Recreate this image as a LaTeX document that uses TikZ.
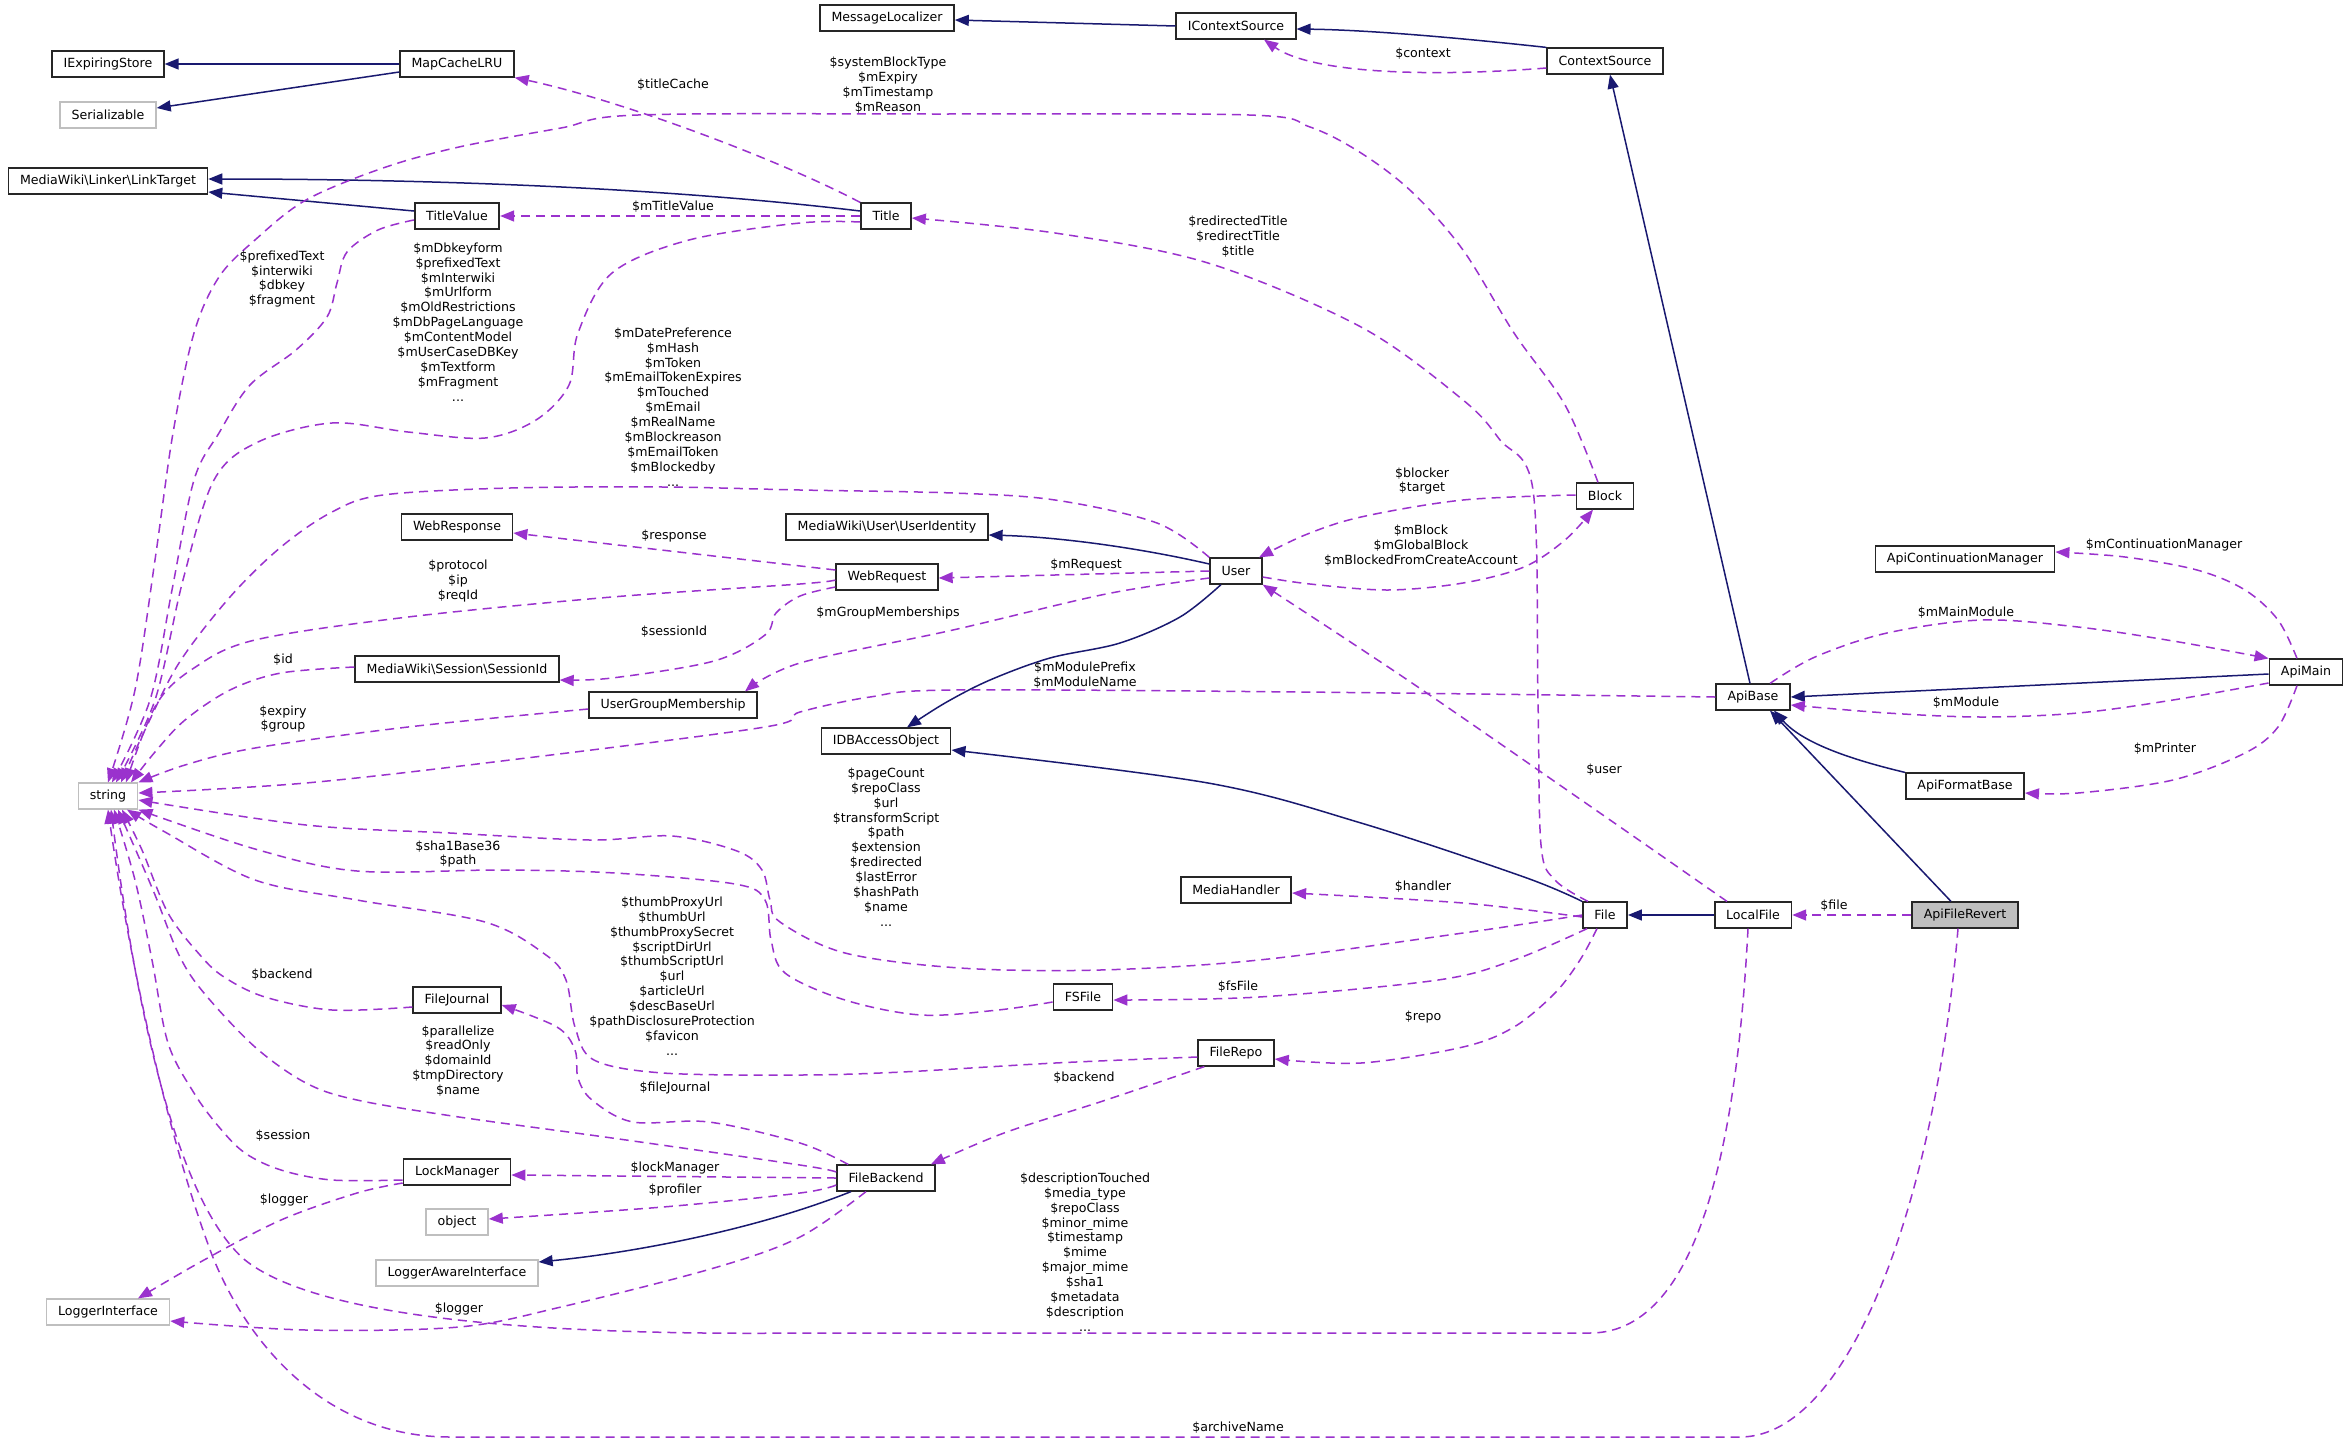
\documentclass[tikz,border=0pt]{standalone}
\usepackage{fontspec}
\setmainfont{DejaVu Sans}
\usetikzlibrary{arrows.meta}
\definecolor{navyc}{HTML}{191970}
\definecolor{orch}{HTML}{9A32CD}
\definecolor{greyb}{HTML}{BFBFBF}
\newcommand{\bsl}{\textbackslash}
\begin{document}
\begin{tikzpicture}[x=1pt,y=-1pt,
 cls/.style={draw=black!85, line width=1.7pt, fill=white, inner xsep=11.5pt, inner ysep=0pt, minimum height=25.5pt, font=\fontsize{12.6}{14.9}\selectfont},
 ext/.style={cls, draw=greyb},
 inh/.style={draw=navyc, line width=1.5pt, -{Triangle[length=14pt,width=11pt]}},
 usg/.style={draw=orch, line width=1.5pt, dash pattern=on 9pt off 6pt, -{Triangle[length=14pt,width=11pt]}},
 lbl/.style={align=center, inner sep=0pt, font=\fontsize{12.6}{14.9}\selectfont},
 sm/.style={smooth, tension=0.55}]
\fill[white] (0,0) rectangle (2349,1443);
\useasboundingbox (0,0) rectangle (2349,1443);
% nodes
\node[cls] (iexp) at (108,64) {IExpiringStore};
\node[ext] (ser) at (108,115) {Serializable};
\node[cls] (mapc) at (457,64) {MapCacheLRU};
\node[cls] (msgl) at (887,18) {MessageLocalizer};
\node[cls] (ictx) at (1236,26) {IContextSource};
\node[cls] (ctx) at (1605,61) {ContextSource};
\node[cls] (lt) at (108,181) {MediaWiki\bsl Linker\bsl LinkTarget};
\node[cls] (tv) at (457,216) {TitleValue};
\node[cls] (title) at (886,216) {Title};
\node[cls] (block) at (1605,496) {Block};
\node[cls] (wresp) at (457,527) {WebResponse};
\node[cls] (uid) at (887,527) {MediaWiki\bsl User\bsl UserIdentity};
\node[cls] (wreq) at (887,577) {WebRequest};
\node[cls] (user) at (1236,571) {User};
\node[cls] (acm) at (1965,559) {ApiContinuationManager};
\node[cls] (sid) at (457,669) {MediaWiki\bsl Session\bsl SessionId};
\node[cls] (ugm) at (673,705) {UserGroupMembership};
\node[cls] (apibase) at (1753,697) {ApiBase};
\node[cls] (apimain) at (2306,672) {ApiMain};
\node[ext] (str) at (108,796) {string};
\node[cls] (idb) at (886,741) {IDBAccessObject};
\node[cls] (afb) at (1965,786) {ApiFormatBase};
\node[cls] (mh) at (1236,890) {MediaHandler};
\node[cls] (file) at (1605,915) {File};
\node[cls] (lfile) at (1753,915) {LocalFile};
\node[cls, fill=greyb] (afr) at (1965,915) {ApiFileRevert};
\node[cls] (fj) at (457,1000) {FileJournal};
\node[cls] (fsfile) at (1083,997) {FSFile};
\node[cls] (frepo) at (1236,1053) {FileRepo};
\node[cls] (lockm) at (457,1172) {LockManager};
\node[cls] (fbe) at (886,1178) {FileBackend};
\node[ext] (obj) at (457,1222) {object};
\node[ext] (lai) at (457,1273) {LoggerAwareInterface};
\node[ext] (li) at (108,1312) {LoggerInterface};
% inheritance
\draw[inh] (mapc.west) -- (iexp.east);
\draw[inh] ([yshift=-8pt]mapc.west) -- ([yshift=7pt]ser.east);
\draw[inh] (ictx.west) -- ([yshift=-2pt]msgl.east);
\draw[inh] (ctx.north west) .. controls (1460,38) and (1370,30) .. ([yshift=-3pt]ictx.east);
\draw[inh] ([yshift=5pt]tv.west) -- ([yshift=-11pt]lt.east);
\draw[inh] ([yshift=5pt]title.west) .. controls (660,187) and (420,179) .. ([yshift=2pt]lt.east);
\draw[inh] ([yshift=7pt]user.west) .. controls (1140,548) and (1060,537) .. ([yshift=-8pt]uid.east);
\draw[inh] plot[sm] coordinates {([xshift=-15pt]user.south) (1180,617) (1120,643) (1050,658) (990,680) (945,703) ([xshift=21pt]idb.north)};
\draw[inh] plot[sm] coordinates {(file.north west) (1524,877) (1361,823) (1208,783) ([yshift=-9pt]idb.east)};
\draw[inh] (lfile.west) -- (file.east);
\draw[inh] ([xshift=-3pt]apibase.north) -- ([xshift=5pt]ctx.south);
\draw[inh] ([yshift=-2pt]apimain.west) -- (apibase.east);
\draw[inh] (afb.north west) .. controls (1840,757) and (1800,740) .. ([xshift=21pt]apibase.south);
\draw[inh] ([xshift=-14pt]afr.north) -- ([xshift=17pt]apibase.south);
\draw[inh] ([xshift=-35pt]fbe.south) .. controls (760,1228) and (640,1252) .. ([yshift=11pt]lai.east);
% usage
\draw[usg] (title.north west) .. controls (780,160) and (620,100) .. (mapc.south east);
\draw[usg] (title.west) -- (tv.east);
\draw[usg] ([yshift=-7pt]ctx.west) .. controls (1420,78) and (1310,72) .. ([xshift=28pt]ictx.south);
\draw[usg] plot[sm] coordinates {([xshift=-7pt]block.north) (1565,405) (1514,333) (1463,250) (1412,192) (1361,153) (1310,127) (1249,115) (940,114) (638,115) (561,128) (459,147) (383,168) (306,200) (255,240) (219,277) (194,333) (173,433) (155,560) (135,690) (str.north)};
\draw[usg] plot[sm] coordinates {([yshift=-4pt]tv.west) (378,230) (347,252) (337,283) (327,317) (296,350) (250,385) (219,433) (194,480) (172,590) (150,700) ([xshift=4pt]str.north)};
\draw[usg] plot[sm] coordinates {([yshift=-6pt]title.west) (800,223) (689,240) (612,273) (578,333) (569,385) (536,420) (485,438) (408,432) (332,423) (258,442) (214,480) (183,580) (155,700) ([xshift=8pt]str.north)};
\draw[usg] plot[sm] coordinates {(user.north west) (1157,523) (1055,500) (953,493) (800,490) (663,487) (510,488) (383,495) (332,512) (281,547) (230,597) (179,663) (145,730) ([xshift=13pt]str.north)};
\draw[usg] plot[sm] coordinates {([yshift=-3pt]wreq.west) (800,584) (612,597) (408,617) (255,640) (194,668) (156,705) ([xshift=18pt]str.north)};
\draw[usg] plot[sm] coordinates {([yshift=2pt]sid.west) (281,673) (230,690) (185,720) (155,752) ([xshift=23pt]str.north)};
\draw[usg] plot[sm] coordinates {([yshift=-4pt]ugm.west) (408,727) (255,748) (185,765) (str.north east)};
\draw[usg] plot[sm] coordinates {(apibase.west) (1300,692) (953,690) (870,697) (800,712) (765,727) (510,760) (306,783) ([yshift=3pt]str.east)};
\draw[usg] plot[sm] coordinates {(file.west) (1463,933) (1259,960) (1100,970) (960,968) (845,953) (780,922) (770,900) (762,870) (737,851) (672,836) (590,840) (450,833) (306,825) ([yshift=-4pt]str.east)};
\draw[usg] plot[sm] coordinates {([yshift=-5pt]fsfile.west) (998,1010) (921,1015) (845,1000) (785,973) (771,940) (765,900) (735,884) (615,873) (500,870) (357,871) (255,849) (str.south east)};
\draw[usg] plot[sm] coordinates {([yshift=-4pt]frepo.west) (1055,1063) (902,1072) (800,1075) (663,1073) (594,1060) (575,1027) (566,980) (546,955) (485,922) (357,900) (255,880) (165,832) ([xshift=19pt]str.south)};
\draw[usg] plot[sm] coordinates {([yshift=-7pt]fj.west) (332,1010) (265,997) (224,977) (200,955) (168,913) (142,850) ([xshift=14pt]str.south)};
\draw[usg] plot[sm] coordinates {([yshift=6pt]fbe.west) (800,1165) (612,1138) (459,1117) (357,1100) (306,1083) (255,1047) (204,993) (179,955) (153,890) ([xshift=10pt]str.south)};
\draw[usg] plot[sm] coordinates {([yshift=-8pt]lockm.west) (332,1180) (281,1170) (245,1153) (219,1127) (194,1093) (168,1043) (152,960) (135,880) ([xshift=6pt]str.south)};
\draw[usg] ([xshift=-5pt]lfile.south) .. controls (1738,1120) and (1705,1333) .. (1590,1333) -- (800,1333) .. controls (500,1336) and (310,1312) .. (245,1260) .. controls (175,1200) and (135,1000) .. ([xshift=3pt]str.south);
\draw[usg] ([xshift=-7pt]afr.south) .. controls (1935,1200) and (1850,1437) .. (1740,1437) -- (450,1437) .. controls (330,1437) and (250,1350) .. (212,1255) .. controls (165,1130) and (128,950) .. (str.south);
\draw[usg] plot[sm] coordinates {([xshift=-17pt]file.north) (1555,880) (1541,845) (1538,700) (1533,490) (1500,440) (1463,400) (1361,327) (1208,263) (1055,233) ([yshift=-2pt]title.east)};
\draw[usg] plot[sm] coordinates {([yshift=1pt]block.west) (1463,500) (1361,517) (1305,535) ([xshift=23pt]user.north)};
\draw[usg] plot[sm] coordinates {([yshift=-6pt]user.east) (1310,584) (1388,590) (1463,583) (1524,567) (1565,540) ([xshift=-12pt]block.south)};
\draw[usg] ([yshift=7pt]wreq.west) -- ([yshift=-6pt]wresp.east);
\draw[usg] (user.west) -- ([yshift=-1pt]wreq.east);
\draw[usg] plot[sm] coordinates {([yshift=-10pt]wreq.west) (800,596) (776,613) (765,635) (714,661) (612,678) ([yshift=-11pt]sid.east)};
\draw[usg] plot[sm] coordinates {([yshift=-7pt]user.west) (1106,594) (953,630) (800,663) ([xshift=72pt]ugm.north)};
\draw[usg] plot[sm] coordinates {([xshift=17pt]apibase.north) (1815,657) (1887,633) (1982,620) (2078,627) (2173,641) (apimain.north west)};
\draw[usg] plot[sm] coordinates {([yshift=-11pt]apimain.west) (2173,700) (2078,713) (1982,717) (1887,713) ([yshift=-8pt]apibase.east)};
\draw[usg] plot[sm] coordinates {([xshift=-9pt]apimain.north) (2278,620) (2245,590) (2197,570) (2125,557) ([yshift=7pt]acm.east)};
\draw[usg] plot[sm] coordinates {([xshift=-9pt]apimain.south) (2278,727) (2245,753) (2173,780) (2078,793) ([yshift=-7pt]afb.east)};
\draw[usg] plot[sm] coordinates {([xshift=-26pt]lfile.north) (1600,813) (1412,683) (user.south east)};
\draw[usg] plot[sm] coordinates {([yshift=-2pt]file.west) (1463,903) ([yshift=-3pt]mh.east)};
\draw[usg] (afr.west) -- (lfile.east);
\draw[usg] plot[sm] coordinates {([xshift=5pt]file.south west) (1514,960) (1438,980) (1259,997) ([yshift=-3pt]fsfile.east)};
\draw[usg] plot[sm] coordinates {([xshift=-8pt]file.south) (1580,960) (1555,993) (1514,1027) (1463,1047) (1361,1063) ([yshift=-6pt]frepo.east)};
\draw[usg] plot[sm] coordinates {([xshift=12pt]fbe.north west) (800,1143) (709,1122) (633,1122) (592,1100) (578,1078) (575,1050) (557,1027) ([yshift=-5pt]fj.east)};
\draw[usg] (fbe.west) -- ([yshift=-3pt]lockm.east);
\draw[usg] plot[sm] coordinates {([yshift=-11pt]lockm.west) (357,1193) (281,1220) (204,1260) ([xshift=30pt]li.north)};
\draw[usg] plot[sm] coordinates {([yshift=-7pt]fbe.west) (800,1193) (663,1207) ([yshift=3pt]obj.east)};
\draw[usg] plot[sm] coordinates {([xshift=-20pt]fbe.south) (800,1237) (714,1268) (561,1307) (459,1327) (306,1330) ([yshift=-9pt]li.east)};
\draw[usg] plot[sm] coordinates {([xshift=7pt]frepo.south west) (1106,1100) (1004,1133) ([xshift=-5pt]fbe.north east)};
% labels
\node[lbl] (l1) at (673,85) {\$titleCache};
\node[lbl] (l2) at (673,207) {\$mTitleValue};
\node[lbl] (l3) at (1423,54) {\$context};
\node[lbl] (l4) at (888,85) {\$systemBlockType\\\$mExpiry\\\$mTimestamp\\\$mReason};
\node[lbl] (l5) at (282,279) {\$prefixedText\\\$interwiki\\\$dbkey\\\$fragment};
\node[lbl] (l6) at (458,322) {\$mDbkeyform\\\$prefixedText\\\$mInterwiki\\\$mUrlform\\\$mOldRestrictions\\\$mDbPageLanguage\\\$mContentModel\\\$mUserCaseDBKey\\\$mTextform\\\$mFragment\\...};
\node[lbl] (l7) at (1238,237) {\$redirectedTitle\\\$redirectTitle\\\$title};
\node[lbl] (l8) at (673,407) {\$mDatePreference\\\$mHash\\\$mToken\\\$mEmailTokenExpires\\\$mTouched\\\$mEmail\\\$mRealName\\\$mBlockreason\\\$mEmailToken\\\$mBlockedby\\...};
\node[lbl] (l9) at (1422,481) {\$blocker\\\$target};
\node[lbl] (l10) at (1421,546) {\$mBlock\\\$mGlobalBlock\\\$mBlockedFromCreateAccount};
\node[lbl] (l11) at (674,536) {\$response};
\node[lbl] (l12) at (1086,565) {\$mRequest};
\node[lbl] (l13) at (458,581) {\$protocol\\\$ip\\\$reqId};
\node[lbl] (l14) at (674,632) {\$sessionId};
\node[lbl] (l15) at (283,660) {\$id};
\node[lbl] (l16) at (888,613) {\$mGroupMemberships};
\node[lbl] (l17) at (283,719) {\$expiry\\\$group};
\node[lbl] (l18) at (1085,675) {\$mModulePrefix\\\$mModuleName};
\node[lbl] (l19) at (1966,613) {\$mMainModule};
\node[lbl] (l20) at (1966,703) {\$mModule};
\node[lbl] (l21) at (2164,545) {\$mContinuationManager};
\node[lbl] (l22) at (2165,749) {\$mPrinter};
\node[lbl] (l23) at (1604,770) {\$user};
\node[lbl] (l24) at (886,847) {\$pageCount\\\$repoClass\\\$url\\\$transformScript\\\$path\\\$extension\\\$redirected\\\$lastError\\\$hashPath\\\$name\\...};
\node[lbl] (l25) at (458,854) {\$sha1Base36\\\$path};
\node[lbl] (l26) at (1423,887) {\$handler};
\node[lbl] (l27) at (1834,906) {\$file};
\node[lbl] (l28) at (1238,987) {\$fsFile};
\node[lbl] (l29) at (1423,1017) {\$repo};
\node[lbl] (l30) at (672,976) {\$thumbProxyUrl\\\$thumbUrl\\\$thumbProxySecret\\\$scriptDirUrl\\\$thumbScriptUrl\\\$url\\\$articleUrl\\\$descBaseUrl\\\$pathDisclosureProtection\\\$favicon\\...};
\node[lbl] (l31) at (282,975) {\$backend};
\node[lbl] (l32) at (675,1088) {\$fileJournal};
\node[lbl] (l33) at (458,1061) {\$parallelize\\\$readOnly\\\$domainId\\\$tmpDirectory\\\$name};
\node[lbl] (l34) at (283,1136) {\$session};
\node[lbl] (l35) at (675,1168) {\$lockManager};
\node[lbl] (l36) at (284,1200) {\$logger};
\node[lbl] (l37) at (675,1190) {\$profiler};
\node[lbl] (l38) at (459,1309) {\$logger};
\node[lbl] (l39) at (1084,1078) {\$backend};
\node[lbl] (l40) at (1085,1252) {\$descriptionTouched\\\$media\_type\\\$repoClass\\\$minor\_mime\\\$timestamp\\\$mime\\\$major\_mime\\\$sha1\\\$metadata\\\$description\\...};
\node[lbl] (l41) at (1238,1428) {\$archiveName};
\end{tikzpicture}
\end{document}
